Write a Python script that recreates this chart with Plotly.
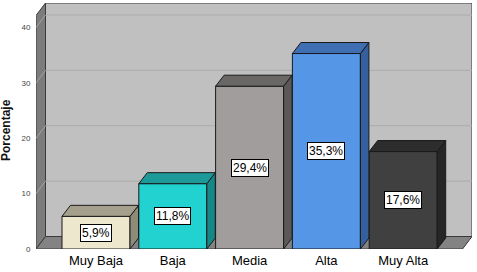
import plotly.graph_objects as go

# ---- data ----
categories = ["Muy Baja", "Baja", "Media", "Alta", "Muy Alta"]
values = [5.9, 11.8, 29.4, 35.3, 17.6]
value_labels = ["5,9%", "11,8%", "29,4%", "35,3%", "17,6%"]
y_ticks = [0, 10, 20, 30, 40]
front_colors = ["#EDE7CE", "#22D2D1", "#A29D9D", "#5596E6", "#404040"]
top_colors = ["#A5A08C", "#1B9A99", "#6A6767", "#3F6FB2", "#2D2D2D"]
side_colors = ["#8F8B79", "#148786", "#5B5858", "#35609E", "#262626"]

FONT = "Liberation Sans, Arial, sans-serif"
W, H = 477, 272
ML, MR, MT, MB = 36, 5, 3, 23
pxx = 76.8           # px per x unit
pxy = 5.5375         # px per y unit
x0 = -(96 - ML) / pxx
xmax = x0 + (W - ML - MR) / pxx
ymax = (H - MT - MB) / pxy

# depths (in data units)
dxw, dyw = 9.5 / pxx, 12.5 / pxy
dxb, dyb = 8.5 / pxx, 11.0 / pxy
bw = 68 / pxx

xs = list(range(len(categories)))

fig = go.Figure()

# front faces as bars
fig.add_trace(go.Bar(
    x=xs, y=values, width=bw,
    marker=dict(color=front_colors, line=dict(color="#1a1a1a", width=1)),
    hoverinfo="skip", showlegend=False,
))

# 3D side and top faces
for i, v in enumerate(values):
    l, r = xs[i] - bw / 2, xs[i] + bw / 2
    fig.add_trace(go.Scatter(
        x=[r, r, r + dxb, r + dxb, r], y=[0, v, v + dyb, dyb, 0],
        mode="lines", fill="toself", fillcolor=side_colors[i],
        line=dict(color="#1a1a1a", width=1), hoverinfo="skip", showlegend=False))
    fig.add_trace(go.Scatter(
        x=[l, l + dxb, r + dxb, r, l], y=[v, v + dyb, v + dyb, v, v],
        mode="lines", fill="toself", fillcolor=top_colors[i],
        line=dict(color="#1a1a1a", width=1), hoverinfo="skip", showlegend=False))

shapes = []
def poly(pts, fill, line="#3a3a3a", w=1):
    d = "M " + " L ".join(f"{px},{py}" for px, py in pts) + " Z"
    shapes.append(dict(type="path", path=d, xref="x", yref="y", fillcolor=fill,
                       line=dict(color=line, width=w), layer="below"))

# back wall
poly([(x0 + dxw, dyw), (xmax, dyw), (xmax, ymax), (x0 + dxw, ymax)], "#C0C0C0")
# left wall
poly([(x0, 0), (x0, ymax - dyw), (x0 + dxw, ymax), (x0 + dxw, dyw)], "#7C7C7C")
# floor
poly([(x0, 0), (xmax - dxw, 0), (xmax, dyw), (x0 + dxw, dyw)], "#838383")

for t in y_ticks[1:]:
    shapes.append(dict(type="line", xref="x", yref="y", x0=x0 + dxw, x1=xmax,
                       y0=t + dyw, y1=t + dyw, line=dict(color="#ABABAB", width=1),
                       layer="below"))
    shapes.append(dict(type="line", xref="x", yref="y", x0=x0, x1=x0 + dxw,
                       y0=t, y1=t + dyw, line=dict(color="#A4A4A4", width=1),
                       layer="below"))

annotations = []
for i, v in enumerate(values):
    annotations.append(dict(
        x=xs[i], y=v / 2, xref="x", yref="y", text=value_labels[i], showarrow=False,
        font=dict(family=FONT, size=12, color="black"),
        bgcolor="white", bordercolor="black", borderwidth=1, borderpad=1))

annotations.append(dict(
    x=(6 - ML) / (W - ML - MR), y=(249 - 130) / (H - MT - MB), xref="paper", yref="paper",
    text="<b>Porcentaje</b>", textangle=-90, showarrow=False,
    xanchor="center", yanchor="middle",
    font=dict(family=FONT, size=12, color="#111")))

fig.update_layout(
    width=W, height=H,
    margin=dict(l=ML, r=MR, t=MT, b=MB, pad=0),
    paper_bgcolor="white", plot_bgcolor="white",
    shapes=shapes, annotations=annotations,
    showlegend=False,
    xaxis=dict(range=[x0, xmax], tickvals=xs, ticktext=categories,
               showgrid=False, zeroline=False, showline=False, ticks="",
               ticklabelstandoff=2,
               tickfont=dict(family=FONT, size=13, color="black"), fixedrange=True),
    yaxis=dict(range=[0, ymax], tickvals=y_ticks, showgrid=False, zeroline=False,
               showline=False, ticks="outside", ticklen=3, tickcolor="rgba(0,0,0,0)",
               tickfont=dict(family=FONT, size=8, color="#444"), fixedrange=True),
)

fig.write_html("out.html")
